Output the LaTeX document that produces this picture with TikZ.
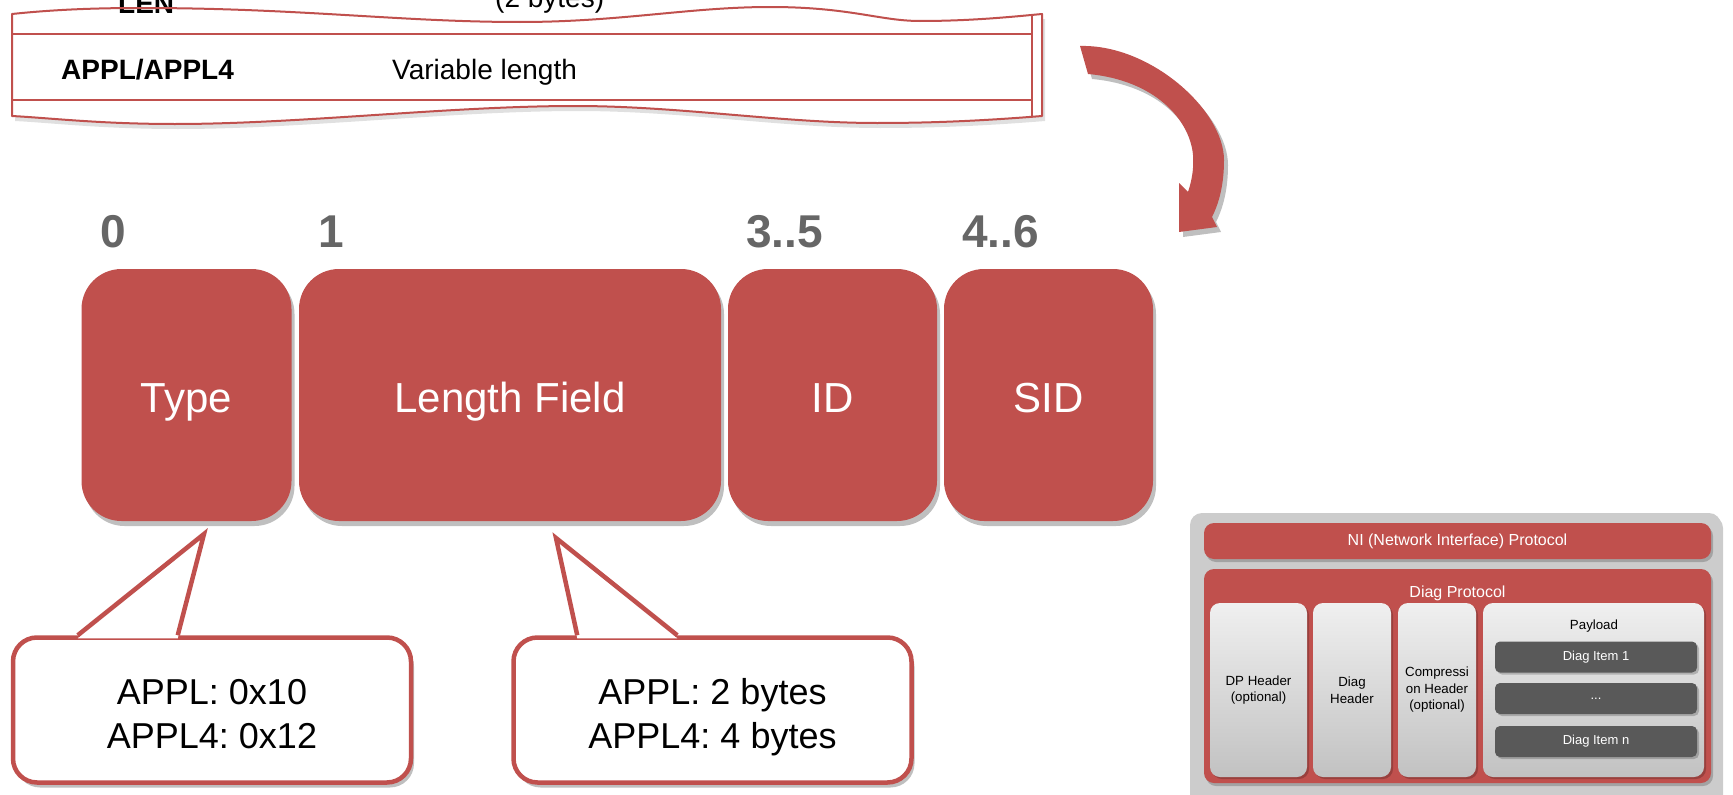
\documentclass[tikz,border=0pt]{standalone}
\usepackage{fontspec}
\setmainfont{Liberation Sans}
\usetikzlibrary{positioning,calc,shadows}
\frenchspacing
\definecolor{fieldred}{rgb}{0.7529,0.3137,0.3020}
\definecolor{labelgray}{rgb}{0.40,0.40,0.40}
\definecolor{itemgray}{rgb}{0.35,0.35,0.35}
\definecolor{framegray}{rgb}{0.80,0.80,0.80}
\tikzset{
    softshadow/.style={drop shadow={shadow xshift=3pt,shadow yshift=-5pt,fill=black,opacity=0.25}},
    field/.style={rectangle,rounded corners=40pt,fill=fieldred,text=white,minimum height=252pt,inner sep=0pt,text height=34pt,text depth=0pt,font=\fontsize{42}{50}\selectfont,softshadow},
    bytepos/.style={inner sep=0pt,text=labelgray,font=\bfseries\fontsize{46}{55}\selectfont},
    bubble/.style={rectangle,rounded corners=24pt,draw=fieldred,line width=4.5pt,fill=white,minimum width=398pt,minimum height=145pt,align=center,text height=76pt,text depth=0pt,font=\fontsize{36}{44}\selectfont,softshadow},
    protobar/.style={rectangle,rounded corners=10pt,fill=fieldred,text=white,minimum width=507pt,font=\fontsize{16}{19}\selectfont,drop shadow={shadow xshift=2pt,shadow yshift=-3pt,fill=black,opacity=0.2}},
    hdrbox/.style={rectangle,rounded corners=10pt,top color=gray!12,bottom color=gray!48,minimum height=174pt,inner sep=1pt,align=center,font=\fontsize{13.3}{16.5}\selectfont,drop shadow={shadow xshift=2pt,shadow yshift=-2pt,fill=black,opacity=0.2}},
    diagitem/.style={rectangle,rounded corners=5pt,fill=itemgray,text=white,minimum width=202pt,minimum height=31pt,font=\fontsize{13}{16}\selectfont,drop shadow={shadow xshift=2pt,shadow yshift=-2pt,fill=black,opacity=0.2}},
    tornline/.style={draw=fieldred,line width=2pt}
}
\newcommand{\topwave}{(12,14) .. controls (50,10) and (90,8) .. (140,8) .. controls (300,8) and (400,22) .. (520,22) .. controls (620,22) and (690,7) .. (770,7) .. controls (850,7) and (880,21) .. (920,21) .. controls (970,21) and (1010,17) .. (1042,14)}
\newcommand{\bottomwave}{(1042,116) .. controls (980,121) and (930,123) .. (877,123) .. controls (780,123) and (680,106) .. (575,106) .. controls (450,106) and (300,124) .. (175,124) .. controls (100,124) and (50,118) .. (12,116)}
\newcommand{\bentarrow}{(1080,46) .. controls (1150,44) and (1224,110) .. (1224,160) .. controls (1224,185) and (1219,203) .. (1212,217) -- (1217,227) -- (1179,232) -- (1179,183) -- (1188,192) .. controls (1192,180) and (1194,168) .. (1193,155) .. controls (1190,120) and (1155,80) .. (1088,74) -- cycle}

\begin{document}
\begin{tikzpicture}[x=1pt,y=-1pt]
            \clip (0,0) rectangle (1733,795);
            \fill[white] (0,0) rectangle (1733,795);

            \fill[black,opacity=0.12,xshift=3pt,yshift=-5pt] \topwave -- \bottomwave -- cycle;
            \fill[white] \topwave -- \bottomwave -- cycle;
            \node[anchor=base west,inner sep=0pt,font=\bfseries\fontsize{28}{34}\selectfont] (lenkey) at (118,13) {LEN};
            \node[anchor=base west,inner sep=0pt,font=\fontsize{28}{34}\selectfont] (lenval) at (495,8) {(2 bytes)};
            \draw[tornline] (12,34) -- (1032,34);
            \draw[tornline] (12,100) -- (1032,100);
            \draw[tornline] (1032,15) -- (1032,117);
            \draw[tornline,line join=round] \topwave -- \bottomwave -- cycle;
            \node[anchor=base west,inner sep=0pt,font=\bfseries\fontsize{28}{34}\selectfont] (rowkey) at (61,79) {APPL/APPL4};
            \node[anchor=base west,inner sep=0pt,font=\fontsize{28}{34}\selectfont] (rowval) at (392,79) {Variable length};

            \fill[black,opacity=0.25,xshift=4pt,yshift=-5pt] \bentarrow;
            \fill[fieldred] \bentarrow;

            \node[field,minimum width=210pt] (type) at (186.5,395) {Type};
            \node[field,minimum width=422pt] (length) at (510,395) {Length Field};
            \node[field,minimum width=209pt] (id) at (832.5,395) {ID};
            \node[field,minimum width=209pt] (sid) at (1048.5,395) {SID};

            \node[bytepos,above right=21pt and 19pt of type.north west] (pos0) {0};
            \node[bytepos,above right=21pt and 19pt of length.north west] (pos1) {1};
            \node[bytepos,above right=21pt and 18pt of id.north west] (pos35) {3..5};
            \node[bytepos,above right=21pt and 18pt of sid.north west] (pos46) {4..6};

            \node[bubble] (bubtype) at (212,710) {APPL: 0x10\\APPL4: 0x12};
            \coordinate (tiptype) at (204,534);
            \fill[white] ($(bubtype.north west)+(67,3)$) -- (tiptype) -- ($(bubtype.north west)+(167,3)$) -- cycle;
            \draw[fieldred,line width=4.5pt] ($(bubtype.north west)+(67,0)$) -- (tiptype) -- ($(bubtype.north west)+(167,0)$);

            \node[bubble] (bublen) at (712.5,710) {APPL: 2 bytes\\APPL4: 4 bytes};
            \coordinate (tiplen) at (556,538);
            \fill[white] ($(bublen.north west)+(66,3)$) -- (tiplen) -- ($(bublen.north west)+(166,3)$) -- cycle;
            \draw[fieldred,line width=4.5pt] ($(bublen.north west)+(66,0)$) -- (tiplen) -- ($(bublen.north west)+(166,0)$);

            \fill[framegray,rounded corners=12pt,drop shadow={shadow xshift=2pt,shadow yshift=-3pt,fill=black,opacity=0.2}] (1190,513) rectangle (1721,810);
            \node[protobar,minimum height=36pt] (niproto) at (1457.5,541) {NI (Network Interface) Protocol};
            \node[protobar,minimum height=214pt] (diagproto) at (1457.5,676) {};
            \node[text=white,font=\fontsize{16}{19}\selectfont] (diaglabel) at (1457.5,593) {Diag Protocol};
            \node[hdrbox,minimum width=97pt] (dphdr) at (1258.5,690) {DP Header\\(optional)};
            \node[hdrbox,minimum width=78pt] (diaghdr) at (1352,690) {Diag\\Header};
            \node[hdrbox,minimum width=78pt] (comphdr) at (1437,690) {Compressi\\on Header\\(optional)};
            \node[hdrbox,minimum width=221pt] (payload) at (1593.5,690) {};
            \node[font=\fontsize{13.3}{16}\selectfont] (paylabel) at (1594,626) {Payload};
            \node[diagitem] (item1) at (1596,657) {Diag Item 1};
            \node[diagitem] (item2) at (1596,698.5) {...};
            \node[diagitem] (itemn) at (1596,741.5) {Diag Item n};
\end{tikzpicture}
\end{document}
